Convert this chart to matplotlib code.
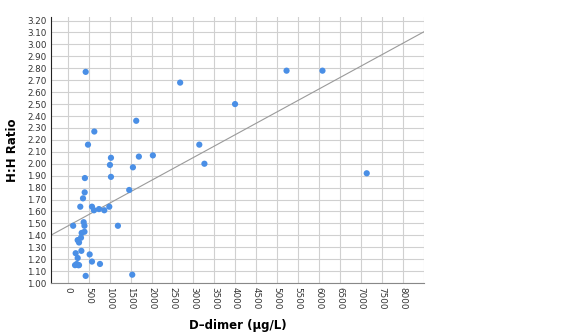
import matplotlib
matplotlib.use("Agg")
import matplotlib.pyplot as plt
import numpy as np

# D-dimer (ug/L) vs H:H ratio
d_dimer = [130, 300, 410, 405, 365, 381, 400, 333, 400, 317, 238, 270, 326, 190,
           238, 175, 215, 250, 270, 429, 524, 579, 770, 579, 627, 746, 873, 992,
           1198, 1032, 1008, 1032, 1468, 1556, 1698, 2032, 1540,
           429, 635, 484, 1635, 2683, 3140, 5222, 6079, 3993, 3262, 7135]
hh_ratio = [1.48, 1.64, 1.88, 1.76, 1.71, 1.51, 1.48, 1.42, 1.43, 1.38, 1.36, 1.34,
            1.27, 1.25, 1.21, 1.15, 1.16, 1.15, 1.15, 1.06, 1.24, 1.18, 1.16, 1.64,
            1.61, 1.62, 1.61, 1.64, 1.48, 2.05, 1.99, 1.89, 1.78, 1.97, 2.06, 2.07,
            1.07, 2.77, 2.27, 2.16, 2.36, 2.68, 2.16, 2.78, 2.78, 2.50, 2.00, 1.92]

x_ticks = list(range(0, 8001, 500))
y_ticks = [round(1.0 + 0.1 * i, 2) for i in range(23)]

x = np.array(d_dimer)
y = np.array(hh_ratio)
slope, icpt = np.polyfit(x, y, 1)

fig = plt.figure(figsize=(5.66, 3.33), dpi=100)
ax = fig.add_axes([0.090, 0.150, 0.659, 0.799])

ax.set_xlim(-400, 8500)
ax.set_ylim(1.0, 3.23)
ax.set_xticks(x_ticks)
ax.set_yticks(y_ticks)
ax.set_xticks([8500], minor=True)
ax.grid(True, which="both", color="#d0d0d0", lw=0.8)
ax.set_axisbelow(True)

xx = np.array([-400, 8500])
ax.plot(xx, icpt + slope * xx, color="#9a9a9a", lw=0.8)
ax.scatter(x, y, s=20, color="#4a8fe6", edgecolors="none", zorder=3)

ax.set_xticklabels([str(t) for t in x_ticks], rotation=270, fontsize=6.3, color="#333333")
ax.set_yticklabels(["%.2f" % t for t in y_ticks], fontsize=6.3, color="#333333")
ax.tick_params(length=0, pad=3)
ax.tick_params(which="minor", length=0)

for s in ["top", "right"]:
    ax.spines[s].set_visible(False)
ax.spines["left"].set_color("#222222")
ax.spines["bottom"].set_color("#888888")

ax.set_xlabel("D–dimer (μg/L)", fontsize=8.5, fontweight="bold", labelpad=7)
ax.set_ylabel("H:H Ratio", fontsize=8.5, fontweight="bold", labelpad=6)

fig.savefig("out.png", dpi=100)
